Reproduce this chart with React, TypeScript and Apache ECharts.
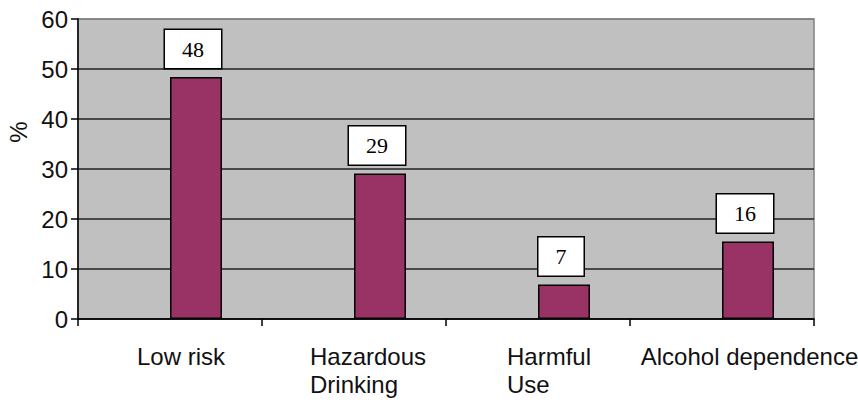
import React, { useEffect, useRef } from "react";
import * as echarts from "echarts";

const categories: string[][] = [
  ["Low risk"],
  ["Hazardous", "Drinking"],
  ["Harmful", "Use"],
  ["Alcohol dependence"],
];
const percentValues: number[] = [48.4, 29.1, 6.9, 15.5];
const yTicks = { min: 0, max: 60, interval: 10 };
const yAxisTitle = "%";

// style only: left indent for each category label block
const labelIndent: number[] = [22, 28, 22, 55];

const SANS = "'Liberation Sans', Arial, sans-serif";
const SERIF = "'Liberation Serif', 'Times New Roman', serif";

export default function App() {
  const ref = useRef<HTMLDivElement>(null);
  useEffect(() => {
    if (!ref.current) return;
    const chart = echarts.init(ref.current, undefined, { renderer: "svg" });
    const catNames = categories.map((c) => c.join(" "));
    const rich: Record<string, any> = {};
    labelIndent.forEach((p, i) => {
      rich["c" + i] = {
        align: "left",
        padding: [0, 0, 0, p],
        fontSize: 24,
        lineHeight: 28,
        fontFamily: SANS,
        color: "#111",
      };
    });
    const option: any = {
      animation: false,
      backgroundColor: "#ffffff",
      grid: {
        left: 78,
        top: 19,
        width: 736,
        height: 300,
        outerBoundsMode: "none",
        containLabel: false,
        show: true,
        backgroundColor: "#c0c0c0",
        borderColor: "#808080",
        borderWidth: 1.5,
      },
      xAxis: {
        type: "category",
        data: catNames,
        axisLine: { show: true, lineStyle: { color: "#000", width: 1.5 } },
        axisTick: { show: true, length: 7, interval: 0, lineStyle: { color: "#000", width: 1.5 } },
        axisLabel: {
          interval: 0,
          margin: 23,
          hideOverlap: false,
          formatter: (_v: string, idx: number) =>
            categories[idx].map((line) => `{c${idx}|${line}}`).join("\n"),
          rich,
        },
      },
      yAxis: {
        type: "value",
        min: yTicks.min,
        max: yTicks.max,
        interval: yTicks.interval,
        axisLine: { show: true, lineStyle: { color: "#000", width: 1.5 } },
        axisTick: { show: true, length: 7, lineStyle: { color: "#000", width: 1.5 } },
        axisLabel: { margin: 10, fontSize: 24, fontFamily: SANS, color: "#111" },
        splitLine: {
          show: true,
          lineStyle: {
            color: ["#222", "#222", "#222", "#222", "#222", "#222", "#808080"],
            width: 1.5,
          },
        },
      },
      series: [
        {
          type: "bar",
          data: percentValues.map(() => null),
          barWidth: 52,
          barGap: "0%",
        },
        {
          type: "bar",
          data: percentValues,
          barWidth: 52,
          barGap: "0%",
          itemStyle: { color: "#993366", borderColor: "#000", borderWidth: 1.5 },
          label: {
            show: true,
            position: "top",
            distance: 9,
            offset: [-3, 0],
            formatter: (p: any) => String(Math.round(p.value)),
            fontFamily: SERIF,
            fontSize: 22,
            lineHeight: 22,
            color: "#000",
            backgroundColor: "#fff",
            borderColor: "#000",
            borderWidth: 1.5,
            padding: [8, 17, 8, 17],
          },
        },
      ],
      graphic: [
        {
          type: "text",
          x: 18,
          y: 132,
          rotation: Math.PI / 2,
          style: {
            text: yAxisTitle,
            fontSize: 24,
            fontFamily: SANS,
            fill: "#111",
            align: "center",
            verticalAlign: "middle",
          },
        },
      ],
    };
    chart.setOption(option);
    return () => chart.dispose();
  }, []);
  return (
    <div
      ref={ref}
      style={{ position: "fixed", left: 0, top: 0, width: 858, height: 402 }}
    />
  );
}
